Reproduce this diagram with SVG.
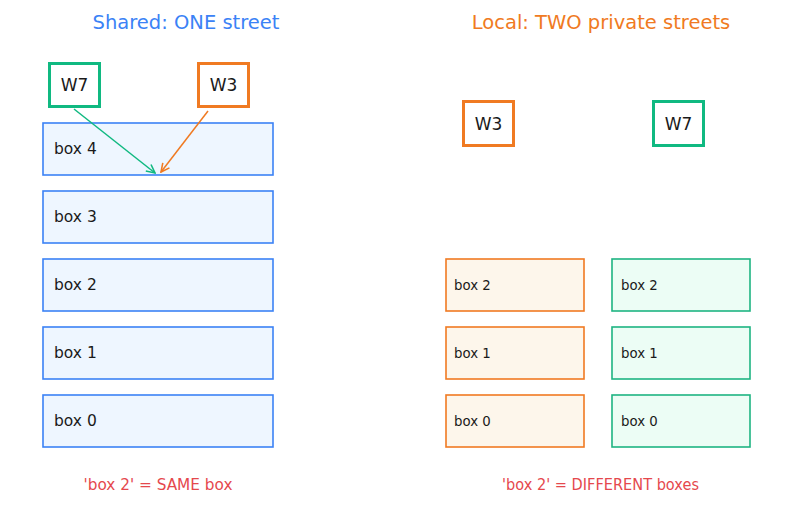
<svg xmlns="http://www.w3.org/2000/svg" width="787" height="507" viewBox="0 0 787 507">
<defs>
<style>
text{font-family:"DejaVu Sans","Liberation Sans",sans-serif;fill:#1a1a1a}
.title{font-size:19.5px;text-anchor:middle}
.worker{fill:#fff;stroke-width:3}
.wt{font-size:17px;text-anchor:middle;dominant-baseline:central}
.bb{fill:#eef6ff;stroke:#3b82f6;stroke-width:1.6}
.ob{fill:#fdf6eb;stroke:#f07a22;stroke-width:1.6}
.gb{fill:#ecfdf5;stroke:#1fb482;stroke-width:1.6}
.lt{font-size:15.5px;dominant-baseline:central}
.st{font-size:13.3px;dominant-baseline:central}
.note{font-size:15.3px;text-anchor:middle;fill:#e5484d}
</style>
<marker id="ag" viewBox="0 0 10 10" refX="9" refY="5" markerWidth="7" markerHeight="7" orient="auto"><path d="M1,1 L9,5 L1,9" fill="none" stroke="#10b981" stroke-width="1.5"/></marker>
<marker id="ao" viewBox="0 0 10 10" refX="9" refY="5" markerWidth="7" markerHeight="7" orient="auto"><path d="M1,1 L9,5 L1,9" fill="none" stroke="#f07a22" stroke-width="1.5"/></marker>
</defs>
<rect width="787" height="507" fill="#fff"/>
<text class="title" x="186" y="29" style="fill:#3b82f6">Shared: ONE street</text>
<text class="title" x="601" y="29" style="fill:#f07a22">Local: TWO private streets</text>

<g id="shared-box4"><rect class="bb" x="43" y="123" width="230" height="52"/><text class="lt" x="54" y="149">box 4</text></g>
<g id="shared-box3"><rect class="bb" x="43" y="191" width="230" height="52"/><text class="lt" x="54" y="217">box 3</text></g>
<g id="shared-box2"><rect class="bb" x="43" y="259" width="230" height="52"/><text class="lt" x="54" y="285">box 2</text></g>
<g id="shared-box1"><rect class="bb" x="43" y="327" width="230" height="52"/><text class="lt" x="54" y="353">box 1</text></g>
<g id="shared-box0"><rect class="bb" x="43" y="395" width="230" height="52"/><text class="lt" x="54" y="421">box 0</text></g>

<g id="shared-W7"><rect class="worker" x="49.5" y="63.5" width="50" height="43" stroke="#10b981"/><text class="wt" x="74.5" y="85">W7</text></g>
<g id="shared-W3"><rect class="worker" x="198.5" y="63.5" width="50" height="43" stroke="#f07a22"/><text class="wt" x="223.5" y="85">W3</text></g>

<g id="local-W3"><rect class="worker" x="463.5" y="101.5" width="50" height="44" stroke="#f07a22"/><text class="wt" x="488.5" y="123.5">W3</text></g>
<g id="local-W7"><rect class="worker" x="653.5" y="101.5" width="50" height="44" stroke="#10b981"/><text class="wt" x="678.5" y="123.5">W7</text></g>

<g id="w3-box2"><rect class="ob" x="446" y="259" width="138" height="52"/><text class="st" x="454" y="285">box 2</text></g>
<g id="w3-box1"><rect class="ob" x="446" y="327" width="138" height="52"/><text class="st" x="454" y="353">box 1</text></g>
<g id="w3-box0"><rect class="ob" x="446" y="395" width="138" height="52"/><text class="st" x="454" y="421">box 0</text></g>
<g id="w7-box2"><rect class="gb" x="612" y="259" width="138" height="52"/><text class="st" x="621" y="285">box 2</text></g>
<g id="w7-box1"><rect class="gb" x="612" y="327" width="138" height="52"/><text class="st" x="621" y="353">box 1</text></g>
<g id="w7-box0"><rect class="gb" x="612" y="395" width="138" height="52"/><text class="st" x="621" y="421">box 0</text></g>

<g id="connectors">
<line x1="74" y1="109" x2="155" y2="173" stroke="#10b981" stroke-width="1.5" marker-end="url(#ag)"/>
<line x1="208" y1="111" x2="161" y2="172" stroke="#f07a22" stroke-width="1.5" marker-end="url(#ao)"/>
</g>

<text class="note" x="158" y="490">'box 2' = SAME box</text>
<text class="note" x="600.5" y="490" textLength="197" lengthAdjust="spacingAndGlyphs">'box 2' = DIFFERENT boxes</text>
</svg>
